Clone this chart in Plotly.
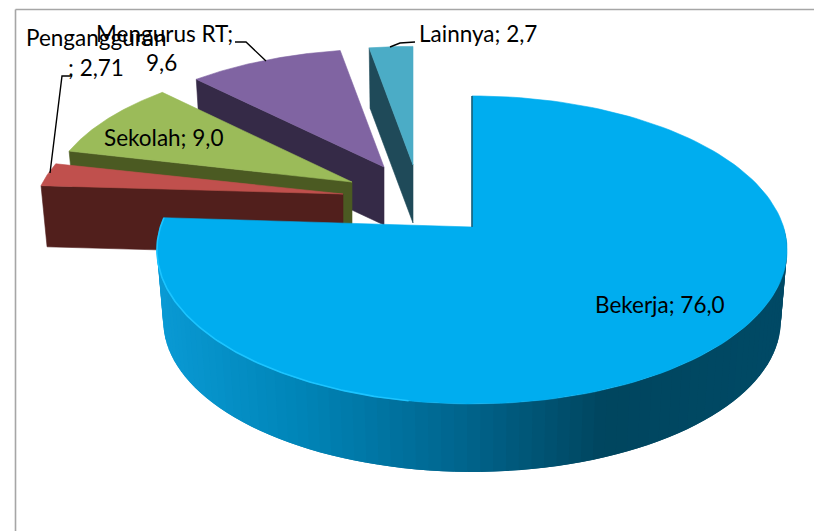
import numpy as np
import plotly.graph_objects as go

# ---- data -------------------------------------------------------------
categories = ["Bekerja", "Pengangguran", "Sekolah", "Mengurus RT", "Lainnya"]
values = [76.0, 2.71, 9.0, 9.6, 2.7]
value_labels = ["76,0", "2,71", "9,0", "9,6", "2,7"]

# ---- style ------------------------------------------------------------
top_colors = ["#00ADEF", "#C0504D", "#9BBB59", "#8064A2", "#4BACC6"]
side_colors = [None, "#511F1C", "#4B5A22", "#352A47", "#1F4A59"]
apex_x = [472, 343, 352, 384, 413]
apex_y = [227, 194, 182, 167, 165]
scale_x = [1.005, 0.985, 0.97, 0.96, 0.96]
scale_y = [1.0, 0.90, 0.92, 0.90, 0.905]
depth = [71.5, 61, 58, 58, 58]
blue_stops_pos = [0.0, 0.23, 0.5, 0.72, 1.0]
blue_stops_rgb = [(10, 154, 212), (0, 133, 184), (0, 100, 140), (0, 70, 95), (0, 74, 102)]

A, B, K, BOTTOM = 310.0, 150.6, 0.149, 0.98
FONT = "Lato"
FS = 22.5

fractions = np.array(values) / sum(values) * 360.0
ends = np.cumsum(fractions)
starts = ends - fractions


def project(i, theta, bottom=False):
    t = np.radians(np.asarray(theta, dtype=float))
    X, Y = np.sin(t), np.cos(t)
    s = 1.0 / (1.0 + K * Y)
    f = BOTTOM if bottom else 1.0
    px = apex_x[i] + A * scale_x[i] * X * s * f
    py = apex_y[i] - B * scale_y[i] * Y * s * f + (depth[i] if bottom else 0.0)
    return px, py


def poly(xs, ys, color, name, width=0.6):
    return go.Scatter(x=xs, y=ys, mode="lines", fill="toself", fillcolor=color,
                      line=dict(color=color, width=width), name=name,
                      hoverinfo="name", showlegend=False)


def top_sector(i):
    th = np.linspace(starts[i], ends[i], 160)
    px, py = project(i, th)
    return poly([apex_x[i], *px, apex_x[i]], [apex_y[i], *py, apex_y[i]], top_colors[i], categories[i])


fig = go.Figure()

# exploded slices, back to front
for i in [4, 3, 2, 1]:
    cx, cy = project(i, starts[i])
    bx, by = project(i, starts[i], bottom=True)
    fig.add_trace(poly([cx, apex_x[i], apex_x[i], bx, cx],
                       [cy, apex_y[i], apex_y[i] + depth[i], by, cy],
                       side_colors[i], categories[i]))
    fig.add_trace(top_sector(i))

# main slice: rim as overlapping shaded strips (each covers the seam of the last)
edges = np.linspace(90, ends[0], 90)
for k in range(len(edges) - 1):
    a = edges[k]
    b = edges[min(k + 2, len(edges) - 1)]
    th = np.linspace(a, b, 6)
    tx, ty = project(0, th)
    bx, by = project(0, th[::-1], bottom=True)
    u = float(np.clip((tx[0] - 160) / 627, 0, 1))
    rgb = [int(np.interp(u, blue_stops_pos, [c[j] for c in blue_stops_rgb])) for j in range(3)]
    col = "rgb(%d,%d,%d)" % tuple(rgb)
    fig.add_trace(poly([*tx, *bx, tx[0]], [*ty, *by, ty[0]], col, categories[0], width=0))

fig.add_trace(top_sector(0))

# bright bevel along the left rim, dark inner edge
hx, hy = project(0, np.linspace(190, ends[0], 120))
fig.add_trace(go.Scatter(x=hx, y=hy, mode="lines", line=dict(color="#1CC4FF", width=1.6),
                         hoverinfo="skip", showlegend=False))
ix, iy = project(0, 0.0)
fig.add_trace(go.Scatter(x=[apex_x[0], ix], y=[apex_y[0], iy], mode="lines",
                         line=dict(color="#1A5A70", width=1.5), hoverinfo="skip", showlegend=False))

# leader lines
leaders = [
    ([390, 400, 415], [47, 43, 42]),
    ([235, 246, 266], [42, 42, 61]),
    ([50, 62, 72], [173, 76, 76]),
]
for lx, ly in leaders:
    fig.add_trace(go.Scatter(x=lx, y=ly, mode="lines", line=dict(color="black", width=1.4),
                             hoverinfo="skip", showlegend=False))

# labels
label_rows = [
    (660, 304.5, f"{categories[0]}; {value_labels[0]}", "center"),
    (163, 137.5, f"{categories[2]}; {value_labels[2]}", "center"),
    (417, 33.5, f"{categories[4]}; {value_labels[4]}", "left"),
    (164, 33.5, f"{categories[3]};", "center"),
    (161, 62.5, value_labels[3], "center"),
    (96, 37.5, categories[1], "center"),
    (96, 67.5, f"; {value_labels[1]}", "center"),
]
for x, y, text, anchor in label_rows:
    fig.add_annotation(x=x, y=y, text=text, showarrow=False, xanchor=anchor, yanchor="middle",
                       font=dict(family=FONT, size=FS, color="black"))

frame = "#A6A6A6"
fig.update_layout(
    width=814, height=531, margin=dict(l=0, r=0, t=0, b=0),
    paper_bgcolor="white", plot_bgcolor="white", showlegend=False,
    xaxis=dict(range=[0, 814], visible=False, fixedrange=True),
    yaxis=dict(range=[531, 0], visible=False, fixedrange=True),
    shapes=[
        dict(type="line", x0=15.5, x1=814, y0=9.5, y1=9.5, line=dict(color=frame, width=1.6)),
        dict(type="line", x0=15.5, x1=15.5, y0=9.5, y1=531, line=dict(color=frame, width=1.6)),
    ],
)
fig.write_html("out.html", config={"displayModeBar": False},
               post_script="document.body.style.margin='0';document.body.style.overflow='hidden';")
